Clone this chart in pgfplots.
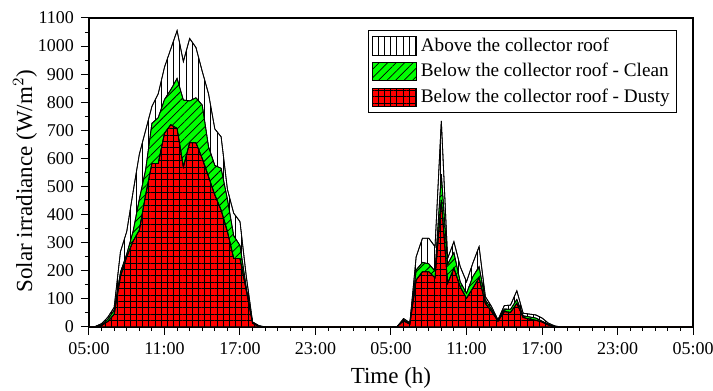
\documentclass[border=0pt]{standalone}
\usepackage{fontspec}
\setmainfont{Liberation Serif}
\usepackage{pgfplots}
\pgfplotsset{compat=1.18}
\usetikzlibrary{patterns.meta}
\begin{document}
\begin{tikzpicture}
\begin{axis}[
  scale only axis, width=302pt, height=154.5pt,
  xmin=0, xmax=48, ymin=0, ymax=1100,
  xtick={0,6,...,48},
  xticklabels={05:00,11:00,17:00,23:00,05:00,11:00,17:00,23:00,05:00},
  minor x tick num=5,
  ytick={0,100,...,1100}, minor y tick num=1,
  tick align=outside, xtick pos=bottom, ytick pos=left,
  major tick length=4pt, minor tick length=2pt,
  axis line style={line width=0.6pt},
  tick style={line width=0.5pt, black},
  tick label style={font=\fontsize{9}{10}\selectfont},
  /pgf/number format/assume math mode=true,
  /pgf/number format/1000 sep={},
  xlabel={\fontsize{11.5}{13}\selectfont Time (h)},
  ylabel={\fontsize{11.5}{13}\selectfont Solar irradiance (W/m$^2$)},
  every axis y label/.style={at={(axis description cs:-0.106,0.472)}, rotate=90, anchor=center},
  every axis x label/.style={at={(axis description cs:0.5,-0.165)}, anchor=center},
  legend style={at={(0.974,0.961)}, anchor=north east, draw=black, line width=0.5pt,
    font=\fontsize{9.6}{11}\selectfont, inner sep=1.5pt, row sep=0.6pt},
  legend cell align=left,
  legend image code/.code={\draw[#1, line width=0.4pt] (0pt,-4.6pt) rectangle (22pt,4.6pt);},
]
\addplot[draw=black, line width=0.4pt, fill=white,
  postaction={pattern={Lines[angle=90,distance=3.1pt,line width=0.4pt]}, pattern color=black}]
coordinates {
(0,0)(0.5,2)(1,12)(1.5,35)(2,70)(2.5,268)(3,340)(3.5,480)(4,615)(4.5,700)
(5,785)(5.5,830)(6,925)(6.5,990)(7,1055)(7.5,945)(8,1027)(8.5,995)(9,910)(9.5,830)
(10,705)(10.5,677)(11,490)(11.5,405)(12,375)(12.5,180)(13,18)(13.5,5)(14,0)
(24,0)(24.5,2)(25,30)(25.5,15)(26,250)(26.5,316)(27,316)(27.5,286)(28,734)(28.5,244)
(29,304)(29.5,215)(30,161)(30.5,227)(31,286)(31.5,108)(32,72)(32.5,25)(33,76)(33.5,78)
(34,129)(34.5,49)(35,46)(35.5,43)(36,32)(36.5,14)(37,4)(37.5,0)(48,0)
} \closedcycle;
\addlegendentry{Above the collector roof}
\addplot[draw=black, line width=0.4pt, fill=green,
  postaction={pattern={Lines[angle=45,distance=3pt,line width=0.4pt]}, pattern color=black}]
coordinates {
(0,0)(0.5,1)(1,8)(1.5,28)(2,60)(2.5,195)(3,260)(3.5,340)(4,455)(4.5,560)
(5,725)(5.5,745)(6,810)(6.5,845)(7,885)(7.5,808)(8,805)(8.5,816)(9,790)(9.5,642)
(10,575)(10.5,565)(11,455)(11.5,325)(12,290)(12.5,140)(13,15)(13.5,3)(14,0)
(24,0)(24.5,2)(25,25)(25.5,13)(26,203)(26.5,230)(27,225)(27.5,199)(28,544)(28.5,224)
(29,265)(29.5,161)(30,120)(30.5,179)(31,215)(31.5,96)(32,63)(32.5,25)(33,64)(33.5,63)
(34,98)(34.5,40)(35,36)(35.5,32)(36,21)(36.5,10)(37,2)(37.5,0)(48,0)
} \closedcycle;
\addlegendentry{Below the collector roof - Clean}
\addplot[draw=black, line width=0.4pt, fill=red,
  postaction={pattern={Lines[angle=0,distance=3.2pt,line width=0.4pt]}, pattern color=black},
  postaction={pattern={Lines[angle=90,distance=3.1pt,line width=0.4pt]}, pattern color=black}]
coordinates {
(0,0)(0.5,0)(1,5)(1.5,20)(2,45)(2.5,180)(3,250)(3.5,305)(4,345)(4.5,470)
(5,582)(5.5,582)(6,690)(6.5,720)(7,707)(7.5,570)(8,656)(8.5,656)(9,600)(9.5,535)
(10,470)(10.5,416)(11,340)(11.5,244)(12,244)(12.5,130)(13,13)(13.5,2)(14,0)
(24,0)(24.5,2)(25,22)(25.5,10)(26,167)(26.5,197)(27,197)(27.5,175)(28,452)(28.5,155)
(29,209)(29.5,143)(30,102)(30.5,138)(31,175)(31.5,84)(32,55)(32.5,21)(33,55)(33.5,52)
(34,84)(34.5,34)(35,28)(35.5,24)(36,18)(36.5,7)(37,2)(37.5,0)(48,0)
} \closedcycle;
\addlegendentry{Below the collector roof - Dusty}
\end{axis}
\pgfresetboundingbox
\path[use as bounding box] (-44.5pt,-32pt) rectangle (312pt,163.5pt);
\end{tikzpicture}
\end{document}
